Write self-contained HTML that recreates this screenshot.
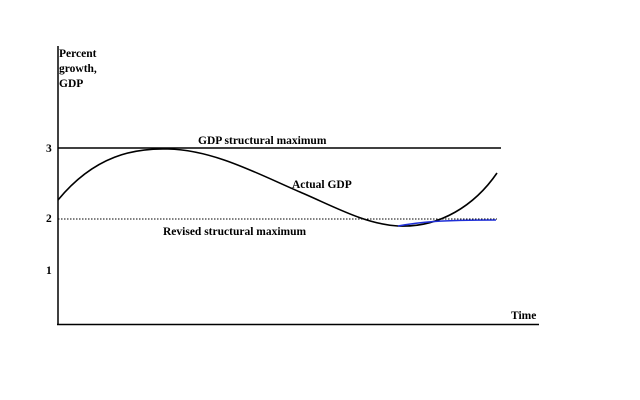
<!DOCTYPE html>
<html><head><meta charset="utf-8"><style>
html,body{margin:0;padding:0;background:#fff;}
svg{display:block;}
text{font-family:"Liberation Serif",serif;font-size:11.5px;fill:#000;font-weight:bold;}
</style></head><body>
<svg width="640" height="400" viewBox="0 0 640 400">
<line x1="58" y1="46" x2="58" y2="325" stroke="#000" stroke-width="1.5"/>
<line x1="57" y1="324.5" x2="539" y2="324.5" stroke="#000" stroke-width="1.5"/>
<line x1="58" y1="148" x2="501" y2="148" stroke="#000" stroke-width="1.5"/>
<line x1="58" y1="219" x2="497" y2="219" stroke="#000" stroke-width="1" stroke-dasharray="1.5,1.5"/>
<path d="M58,200 C95,155 135,148 168,149 C215,150 260,175 300,192 C335,207 365,224 398,226 C440,228 475,205 497,173" fill="none" stroke="#000" stroke-width="1.6"/>
<path d="M398,226 C420,222 440,220 496,220" fill="none" stroke="#1f2fd8" stroke-width="1.5"/>
<text x="59" y="57">Percent</text>
<text x="59" y="72">growth,</text>
<text x="59" y="87">GDP</text>
<text x="46" y="152">3</text>
<text x="46" y="222">2</text>
<text x="46" y="274">1</text>
<text x="198" y="144">GDP structural maximum</text>
<text x="292" y="188">Actual GDP</text>
<text x="163" y="235">Revised structural maximum</text>
<text x="511" y="319">Time</text>
</svg>
</body></html>
